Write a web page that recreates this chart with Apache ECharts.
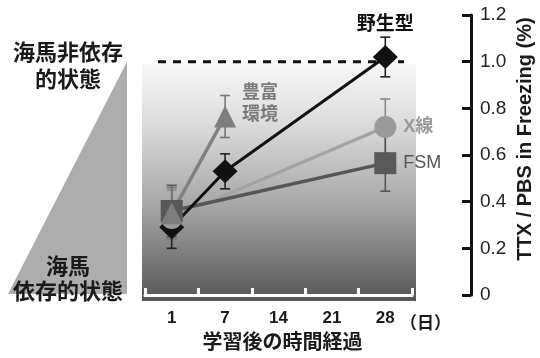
<!DOCTYPE html>
<html>
<head>
<meta charset="utf-8">
<script src="https://cdn.jsdelivr.net/npm/echarts@6/dist/echarts.min.js"></script>
<style>
  html, body { margin: 0; padding: 0; background: #fff; }
  #chart { width: 540px; height: 358px; }
</style>
</head>
<body>
<div id="chart"></div>
<script>
// Days after learning (category axis, evenly spaced)
const days = ['1', '7', '14', '21', '28'];

// Mean TTX/PBS freezing ratio per group (null = not measured)
const wildType    = [0.29, 0.53, null, null, 1.02];
const wildTypeErr = [0.09, 0.075, null, null, 0.085];
const enriched    = [0.35, 0.765, null, null, null];
const enrichedErr = [0.11, 0.09, null, null, null];
const xray        = [0.33, null, null, null, 0.72];
const xrayErr     = [0.12, null, null, null, 0.12];
const fsm         = [0.36, null, null, null, 0.565];
const fsmErr      = [0.11, null, null, null, 0.12];

// Reference level (hippocampus-independent)
const independentLevel = 1.0;

// Y axis ticks
const yMin = 0, yMax = 1.2, yStep = 0.2;

const names = {
  wild: '野生型',
  enriched: '豊富\n環境',
  xray: 'X線',
  fsm: 'FSM'
};

const CJK = '"Liberation Sans", "Noto Sans CJK JP", sans-serif';

const GRID = { left: 145, right: 128, top: 15, bottom: 59 };

function points(values) {
  const out = [];
  values.forEach((v, i) => { if (v !== null) out.push([i, v]); });
  return out;
}
function errorData(values, errs) {
  const out = [];
  values.forEach((v, i) => { if (v !== null && errs[i] !== null) out.push([i, v - errs[i], v + errs[i]]); });
  return out;
}
function withLabel(values, idx, label) {
  return points(values).map(p => p[0] === idx ? { value: p, label: Object.assign({ show: true }, label) } : p);
}

function lineSeries(values, color, width, z) {
  return {
    type: 'line', data: values, connectNulls: true, showSymbol: false,
    lineStyle: { color: color, width: width }, z: z, silent: true, animation: false
  };
}
function errSeries(values, errs, color, z) {
  return {
    type: 'custom', z: z, silent: true, animation: false,
    data: errorData(values, errs),
    renderItem: function (params, api) {
      const lo = api.coord([api.value(0), api.value(1)]);
      const hi = api.coord([api.value(0), api.value(2)]);
      const cap = 5;
      const style = { stroke: color, lineWidth: 1.6 };
      return {
        type: 'group',
        children: [
          { type: 'line', shape: { x1: lo[0], y1: lo[1], x2: hi[0], y2: hi[1] }, style: style },
          { type: 'line', shape: { x1: lo[0] - cap, y1: lo[1], x2: lo[0] + cap, y2: lo[1] }, style: style },
          { type: 'line', shape: { x1: hi[0] - cap, y1: hi[1], x2: hi[0] + cap, y2: hi[1] }, style: style }
        ]
      };
    },
    encode: { x: 0, y: [1, 2] }
  };
}
function markerSeries(symbol, size, color, z, data) {
  return {
    type: 'scatter', z: z, silent: true, animation: false,
    symbol: symbol, symbolSize: size,
    itemStyle: { color: color, opacity: 1 },
    data: data
  };
}

const chart = echarts.init(document.getElementById('chart'), null, { renderer: 'canvas' });

const option = {
  animation: false,
  backgroundColor: '#ffffff',
  grid: GRID,
  xAxis: {
    type: 'category',
    data: days,
    boundaryGap: true,
    axisLine: { lineStyle: { color: '#ffffff', width: 3 } },
    axisTick: { show: true, inside: true, length: 7, lineStyle: { color: '#ffffff', width: 3 } },
    axisLabel: { color: '#1a1a1a', fontSize: 17, fontWeight: 'bold', fontFamily: CJK, margin: 15 },
    name: '学習後の時間経過',
    nameLocation: 'middle',
    nameGap: 38,
    nameTextStyle: { color: '#1a1a1a', fontSize: 20, fontWeight: 'bold', fontFamily: CJK, padding: [0, 0, 0, 8] },
    splitLine: { show: false }
  },
  yAxis: {
    type: 'value',
    position: 'right',
    offset: 59,
    min: yMin, max: yMax, interval: yStep,
    axisLine: { show: true, lineStyle: { color: '#111', width: 3 } },
    axisTick: { show: true, inside: true, length: 9, lineStyle: { color: '#111', width: 3 } },
    axisLabel: {
      color: '#222', fontSize: 19, fontFamily: CJK, margin: 9,
      formatter: v => (v === 0 ? '0' : v.toFixed(1))
    },
    splitLine: { show: false },
    name: 'TTX / PBS in Freezing (%)',
    nameLocation: 'middle',
    nameRotate: 90,
    nameGap: 44,
    nameTextStyle: { color: '#1a1a1a', fontSize: 20, fontWeight: 'bold', fontFamily: CJK, padding: [0, 0, 0, 32] }
  },
  series: [
    lineSeries(xray, '#a3a3a3', 3.5, 2),
    lineSeries(fsm, '#565656', 3.5, 2),
    lineSeries(enriched, '#808080', 3.5, 2),
    lineSeries(wildType, '#111111', 3, 3),

    errSeries(xray, xrayErr, '#8a8a8a', 4),
    errSeries(fsm, fsmErr, '#555555', 4),
    errSeries(enriched, enrichedErr, '#777777', 4),
    errSeries(wildType, wildTypeErr, '#222222', 4),

    markerSeries('diamond', [25, 24], '#111111', 5, withLabel(wildType, 4, {
      formatter: names.wild, position: 'top', distance: 11,
      color: '#111', fontSize: 19, fontWeight: 'bold', fontFamily: CJK
    })),
    markerSeries('circle', 22, '#9a9a9a', 6, withLabel(xray, 4, {
      formatter: names.xray, position: 'right', distance: 7,
      color: '#999', fontSize: 18, fontWeight: 'bold', fontFamily: CJK
    })),
    markerSeries('rect', 22, '#585858', 7, withLabel(fsm, 4, {
      formatter: names.fsm, position: 'right', distance: 7,
      color: '#555', fontSize: 18, fontFamily: CJK
    })),
    markerSeries('triangle', [22, 22], '#7e7e7e', 8, withLabel(enriched, 1, {
      formatter: names.enriched, position: 'right', distance: 6, offset: [0, -12],
      color: '#7a7a7a', fontSize: 18, fontWeight: 'bold', fontFamily: CJK, lineHeight: 22
    }))
  ]
};

chart.setOption(option);

// Background panel, reference dashed line and side annotations
const yTop = chart.convertToPixel({ yAxisIndex: 0 }, independentLevel);
const yZero = chart.convertToPixel({ yAxisIndex: 0 }, 0);
const plotL = GRID.left, plotR = 540 - GRID.right;

chart.setOption({
  graphic: [
    {
      type: 'rect', z: -10, silent: true,
      shape: { x: plotL - 3, y: yTop + 2, width: plotR - plotL + 7, height: yZero - yTop + 4 },
      style: {
        fill: new echarts.graphic.LinearGradient(0, 0, 0, 1, [
          { offset: 0, color: '#f7f7f7' },
          { offset: 0.25, color: '#dcdcdc' },
          { offset: 0.6, color: '#a6a6a6' },
          { offset: 1, color: '#565656' }
        ])
      }
    },
    {
      type: 'line', z: 1, silent: true,
      shape: { x1: plotL + 13, y1: yTop, x2: plotR - 8, y2: yTop },
      style: { stroke: '#111', lineWidth: 3, lineDash: [8, 7] }
    },
    {
      type: 'polygon', z: -10, silent: true,
      shape: { points: [[8, yZero - 1], [127, yZero - 1], [127, yTop]] },
      style: { fill: '#adadad' }
    },
    {
      type: 'text', silent: true, x: 68, y: 65.5,
      style: {
        text: '海馬非依存\n的状態', align: 'center', verticalAlign: 'middle',
        fill: '#1a1a1a', font: 'bold 22px "Noto Sans CJK JP"', lineHeight: 27
      }
    },
    {
      type: 'text', silent: true, x: 68, y: 278.5,
      style: {
        text: '海馬\n依存的状態', align: 'center', verticalAlign: 'middle',
        fill: '#1a1a1a', font: 'bold 22px "Noto Sans CJK JP"', lineHeight: 25
      }
    },
    {
      type: 'text', silent: true, x: 400, y: 323,
      style: {
        text: '（日）', align: 'left', verticalAlign: 'middle',
        fill: '#1a1a1a', font: 'bold 17px "Noto Sans CJK JP"'
      }
    }
  ]
});
</script>
</body>
</html>
